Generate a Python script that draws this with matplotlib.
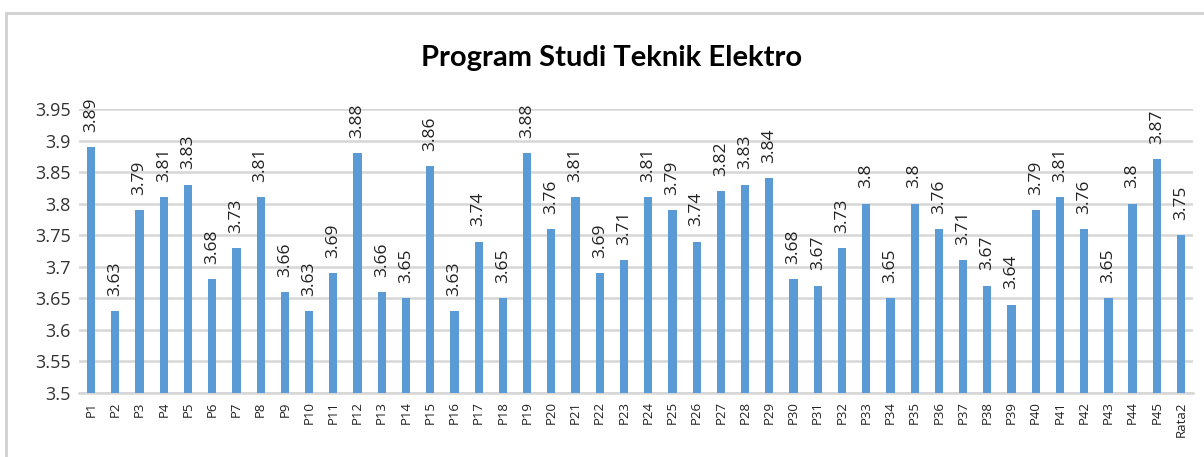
import matplotlib.pyplot as plt
from matplotlib.patches import Rectangle

labels = ["P%d" % i for i in range(1, 46)] + ["Rata2"]
values = [3.89, 3.63, 3.79, 3.81, 3.83, 3.68, 3.73, 3.81, 3.66, 3.63,
          3.69, 3.88, 3.66, 3.65, 3.86, 3.63, 3.74, 3.65, 3.88, 3.76,
          3.81, 3.69, 3.71, 3.81, 3.79, 3.74, 3.82, 3.83, 3.84, 3.68,
          3.67, 3.73, 3.8, 3.65, 3.8, 3.76, 3.71, 3.67, 3.64, 3.79,
          3.81, 3.76, 3.65, 3.8, 3.87, 3.75]
yticks = [3.5, 3.55, 3.6, 3.65, 3.7, 3.75, 3.8, 3.85, 3.9, 3.95]

plt.rcParams["font.family"] = ["Open Sans", "DejaVu Sans"]

fig = plt.figure(figsize=(12.04, 4.57), dpi=100)
ax = fig.add_axes([0.0656, 0.14, 0.9254, 0.6215])

x = range(len(labels))
bars = ax.bar(x, values, width=0.34, color="#5B9BD5", zorder=3)

for xi, v in zip(x, values):
    ax.annotate(f"{v:g}", (xi, v), xytext=(0, 11), textcoords="offset points",
                rotation=90, ha="center", va="bottom",
                fontsize=12.5, color="#222222", annotation_clip=False)

ax.set_ylim(3.5, 3.95)
ax.set_xlim(-0.5, len(labels) - 0.5)
ax.set_yticks(yticks)
ax.set_yticklabels([f"{t:g}" for t in yticks], fontsize=13, color="#333333")
ax.set_xticks(list(x))
ax.set_xticklabels(labels, rotation=90, fontsize=9.5, color="#222222")
ax.tick_params(length=0, pad=6)
ax.yaxis.grid(True, color="#D6D6D6", linewidth=1.8, zorder=0)
for s in ["top", "right", "left"]:
    ax.spines[s].set_visible(False)
ax.spines["bottom"].set_color("#D6D6D6")
ax.spines["bottom"].set_linewidth(1.8)

fig.text(0.508, 0.873, "Program Studi Teknik Elektro", ha="center", va="center",
         fontsize=21, fontweight="bold", family=["Lato", "DejaVu Sans"])

fig.patches.append(Rectangle((0.005, -0.1), 1.2, 0.1 + 0.972, transform=fig.transFigure,
                             fill=False, edgecolor="#D0D0D0", linewidth=2))

fig.savefig("out.png", dpi=100)
